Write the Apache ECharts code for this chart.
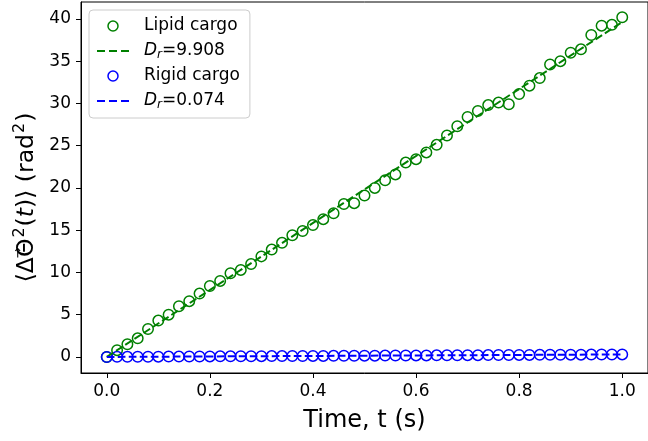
<!DOCTYPE html>
<html>
<head>
<meta charset="utf-8">
<script src="https://cdn.jsdelivr.net/npm/echarts@6.0.0/dist/echarts.min.js"></script>
<style>
  html, body { margin: 0; padding: 0; background: #fff; }
  #chart { width: 648px; height: 441px; }
</style>
</head>
<body>
<div id="chart"></div>
<script>
// Sampling times (s)
const times = [0.00, 0.02, 0.04, 0.06, 0.08, 0.10, 0.12, 0.14, 0.16, 0.18,
               0.20, 0.22, 0.24, 0.26, 0.28, 0.30, 0.32, 0.34, 0.36, 0.38,
               0.40, 0.42, 0.44, 0.46, 0.48, 0.50, 0.52, 0.54, 0.56, 0.58,
               0.60, 0.62, 0.64, 0.66, 0.68, 0.70, 0.72, 0.74, 0.76, 0.78,
               0.80, 0.82, 0.84, 0.86, 0.88, 0.90, 0.92, 0.94, 0.96, 0.98, 1.00];

// Mean squared angular displacement (rad^2), lipid cargo
const lipidMsd = [0.0, 0.8, 1.5, 2.2, 3.3, 4.3, 5.0, 6.0, 6.6, 7.5,
                  8.4, 9.0, 9.9, 10.3, 11.0, 11.9, 12.7, 13.5, 14.4, 14.9,
                  15.6, 16.3, 17.0, 18.1, 18.2, 19.1, 20.0, 20.9, 21.6, 23.0,
                  23.4, 24.2, 25.1, 26.2, 27.3, 28.4, 29.1, 29.8, 30.1, 29.9,
                  31.1, 32.1, 33.0, 34.6, 35.0, 36.0, 36.4, 38.1, 39.2, 39.3, 40.2];

// Mean squared angular displacement (rad^2), rigid cargo
const rigidMsd = [0.00, 0.01, 0.01, 0.02, 0.02, 0.03, 0.04, 0.04, 0.05, 0.05,
                  0.06, 0.07, 0.07, 0.08, 0.08, 0.09, 0.10, 0.10, 0.11, 0.11,
                  0.12, 0.12, 0.13, 0.14, 0.14, 0.15, 0.15, 0.16, 0.17, 0.17,
                  0.18, 0.18, 0.19, 0.20, 0.20, 0.21, 0.21, 0.22, 0.23, 0.23,
                  0.24, 0.24, 0.25, 0.26, 0.26, 0.27, 0.27, 0.28, 0.29, 0.29, 0.30];

// Fitted rotational diffusion coefficients
const drLipid = 9.908;
const drRigid = 0.074;
const fitTimes = [0, 1];

// Axis ticks
const xTicks = [0, 0.2, 0.4, 0.6, 0.8, 1.0];
const yTicks = [0, 5, 10, 15, 20, 25, 30, 35, 40];

const GREEN = '#008000';
const BLUE = '#0000ff';
const FONT = 'DejaVu Sans';

const pairs = (xs, ys) => xs.map((x, i) => [x, ys[i]]);
const fitLine = dr => fitTimes.map(t => [t, 4 * dr * t]);

const nameLipidFit = 'Dr=' + drLipid.toFixed(3);
const nameRigidFit = 'Dr=' + drRigid.toFixed(3);

// dashed legend glyph; corner specks fix its box to 34x10
const dashIcon = 'path://M0,0h0.01v0.01h-0.01z M34,10h-0.01v-0.01h0.01z ' +
  'M1,4h8v2h-8z M13,4h8v2h-8z M25,4h8v2h-8z';

const chart = echarts.init(document.getElementById('chart'), null, { renderer: 'canvas' });

const dashType = [7.7, 3.3];
const markerStyle = color => ({
  color: 'rgba(0,0,0,0)', borderColor: color, borderWidth: 1.5, opacity: 1
});

const TITLE_SIZE = 23.5;

chart.setOption({
  animation: false,
  backgroundColor: '#fff',
  textStyle: { fontFamily: FONT },
  grid: {
    left: 81, top: 2, width: 574, height: 371,
    show: true, borderColor: '#000', borderWidth: 1, backgroundColor: 'transparent'
  },
  xAxis: {
    type: 'value', min: -0.05, max: 1.05,
    name: 'Time, t (s)', nameLocation: 'middle', nameGap: 36,
    nameTextStyle: { fontSize: 24, color: '#000', fontFamily: FONT },
    axisLine: { onZero: false, lineStyle: { color: '#000', width: 1 } },
    axisTick: { show: true, length: 5, lineStyle: { color: '#000' }, customValues: xTicks },
    axisLabel: { fontSize: 17, color: '#000', margin: 10, fontFamily: FONT,
                 customValues: xTicks, formatter: v => v.toFixed(1) },
    splitLine: { show: false }
  },
  yAxis: {
    type: 'value', min: -1.9, max: 42.0,
    name: '{n|⟨ΔΘ}{sup|2}{n|(}{it|t}{n|)⟩ (rad}{sup|2}{n|)}',
    nameLocation: 'middle', nameGap: 31, nameRotate: 90,
    nameTextStyle: {
      color: '#000', fontFamily: FONT, fontSize: TITLE_SIZE,
      padding: [0, 20, 0, 0],
      rich: {
        n: { fontSize: TITLE_SIZE, fontFamily: FONT, color: '#000' },
        it: { fontSize: TITLE_SIZE, fontFamily: FONT, fontStyle: 'italic', color: '#000' },
        sup: { fontSize: 16, fontFamily: FONT, color: '#000', padding: [0, 1, 13, 1] }
      }
    },
    axisLine: { show: true, onZero: false, lineStyle: { color: '#000', width: 1 } },
    axisTick: { show: true, length: 5, lineStyle: { color: '#000' }, customValues: yTicks },
    axisLabel: { fontSize: 17, color: '#000', margin: 10, fontFamily: FONT,
                 customValues: yTicks },
    splitLine: { show: false }
  },
  // vector arrow over the Theta of the y-axis title
  graphic: [{
    type: 'text', x: 19, y: 253, rotation: Math.PI / 2,
    style: { text: '→', fontSize: 13, fontFamily: FONT, fill: '#000',
             align: 'center', verticalAlign: 'middle' },
    silent: true
  }],
  legend: {
    orient: 'vertical', left: 89, top: 10,
    padding: [6, 10, 7, 7],
    itemWidth: 34, itemHeight: 10, itemGap: 5,
    symbolKeepAspect: false,
    backgroundColor: 'rgba(255,255,255,0.8)',
    borderColor: '#cccccc', borderWidth: 1, borderRadius: 4,
    selectedMode: false,
    textStyle: {
      fontSize: 17, color: '#000', fontFamily: FONT, lineHeight: 20,
      padding: [0, 0, 0, 9],
      rich: {
        d: { fontSize: 17, fontStyle: 'italic', fontFamily: FONT, color: '#000', lineHeight: 20 },
        s: { fontSize: 12, fontStyle: 'italic', fontFamily: FONT, color: '#000', verticalAlign: 'bottom', lineHeight: 14 },
        t: { fontSize: 17, fontFamily: FONT, color: '#000', lineHeight: 20 }
      }
    },
    formatter: name => {
      if (name.startsWith('Dr=')) return '{d|D}{s|r}{t|=' + name.slice(3) + '}';
      return name;
    },
    data: [
      { name: 'Lipid cargo', icon: 'circle', itemStyle: markerStyle(GREEN) },
      { name: nameLipidFit, icon: dashIcon,
        itemStyle: { color: GREEN, borderWidth: 0, opacity: 1 } },
      { name: 'Rigid cargo', icon: 'circle', itemStyle: markerStyle(BLUE) },
      { name: nameRigidFit, icon: dashIcon,
        itemStyle: { color: BLUE, borderWidth: 0, opacity: 1 } }
    ]
  },
  series: [
    {
      name: 'Lipid cargo', type: 'scatter', symbol: 'circle', symbolSize: 10.5,
      itemStyle: markerStyle(GREEN),
      emphasis: { disabled: true },
      data: pairs(times, lipidMsd)
    },
    {
      name: nameLipidFit, type: 'line', symbol: 'none', silent: true,
      lineStyle: { color: GREEN, width: 2, type: dashType },
      itemStyle: { color: GREEN },
      data: fitLine(drLipid)
    },
    {
      name: 'Rigid cargo', type: 'scatter', symbol: 'circle', symbolSize: 10.5,
      itemStyle: markerStyle(BLUE),
      emphasis: { disabled: true },
      data: pairs(times, rigidMsd)
    },
    {
      name: nameRigidFit, type: 'line', symbol: 'none', silent: true,
      lineStyle: { color: BLUE, width: 2, type: dashType },
      itemStyle: { color: BLUE },
      data: fitLine(drRigid)
    }
  ]
});
</script>
</body>
</html>
